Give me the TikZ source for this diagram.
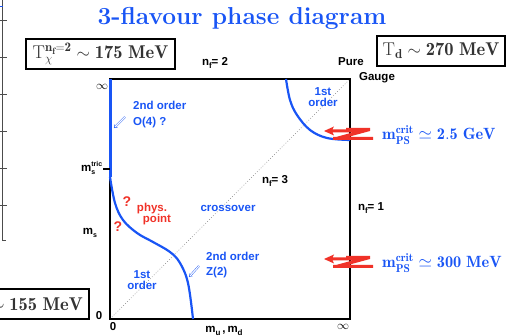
\documentclass[tikz,border=0pt]{standalone}
\usepackage{fontspec}
\setsansfont{Liberation Sans}
\usetikzlibrary{arrows.meta}
\definecolor{myblue}{RGB}{25,85,245}
\definecolor{myred}{RGB}{240,50,40}
\begin{document}
\begin{tikzpicture}[x=1pt,y=-1pt,
  lab/.style={font=\sffamily\bfseries\fontsize{11.5}{13.5}\selectfont, inner sep=0pt, align=center},
  bl/.style={lab, text=myblue},
  rd/.style={lab, text=myred},
  tbox/.style={draw, line width=1.3pt, inner sep=0pt, font=\fontsize{18.5}{21}\selectfont, text=black!80},
  mps/.style={inner sep=0pt, anchor=west, text=myblue, font=\fontsize{16.3}{19}\selectfont},
  curve/.style={myblue, line width=2.2pt},
  dblarrow/.style={myblue, double, double distance=1.1pt, line width=0.4pt, -{Implies}},
  zarrow/.style={fill=myred, draw=none}
]
\useasboundingbox (0,0) rectangle (531,336);
\clip (0,0) rectangle (531,336);

% partial plot at left edge
\draw[black!70, line width=0.8pt] (2,0) -- (2,240) -- (6,240);
\foreach \yy in {20,57,94,131,168,205} \draw[black!70, line width=0.8pt] (0,\yy) -- (7,\yy);
\draw[myblue, line width=1pt] (0,7) -- (3,7);

% title
\node[inner sep=0pt, text=myblue, font=\bfseries\fontsize{24.5}{28}\selectfont] (title) at (242,18) {3-flavour phase diagram};

% boxes
\node[tbox, minimum width=149pt, minimum height=30pt] (tchi) at (100.5,54) {$\mathrm{T}_{\chi}^{\mathbf{n_f=2}}\sim\mathbf{175~MeV}$};
\node[tbox, minimum width=128pt, minimum height=30pt] (td) at (441,51) {$\mathrm{T}_{\mathbf{d}}\sim\mathbf{270~MeV}$};
\draw[line width=1.3pt] (-10,289) rectangle (89,319);
\node[inner sep=0pt, anchor=east, text=black!80, font=\fontsize{18.5}{21}\selectfont] (tc) at (83,304) {$\sim\mathbf{155~MeV}$};

% main square
\coordinate (BL) at (110,319);
\coordinate (TL) at (110,79);
\coordinate (TR) at (350,79);
\coordinate (BR) at (350,319);
\draw[gray, dotted, line width=0.7pt] (BL) -- (TR);
\draw[line width=2pt] (BL) -- (TL) -- (TR) -- (BR) -- cycle;
\coordinate (tric) at (110,177);
\draw[myblue, line width=3pt] (TL) -- (tric);
\draw[line width=2pt] (103,169) -- (110,169);

% curves
\draw[curve] plot[smooth, tension=0.6] coordinates {(110,177) (115,203) (123,220) (137,233) (153,242) (170,252) (180,263) (188,283) (193,319)};
\draw[curve] plot[smooth, tension=0.6] coordinates {(286,79) (290,100) (297,115) (310,130) (327,138) (350,140)};

% axis labels
\node[lab] (inf1) at (102,87) {$\infty$};
\node[lab] (inf2) at (343,327) {$\infty$};
\node[lab] (zero1) at (99,316) {0};
\node[lab] (zero2) at (113,327) {0};
\node[lab] (mumd) at (224,331) {m\raisebox{-0.45ex}{\fontsize{8}{9}\selectfont u}\,,\,m\raisebox{-0.45ex}{\fontsize{8}{9}\selectfont d}};
\node[lab] (ms) at (90,233) {m\raisebox{-0.45ex}{\fontsize{7}{8}\selectfont s}};
\node[lab] (mstric) at (92,168) {m$^{\hbox{\fontsize{7}{8}\selectfont tric}}_{\hbox{\fontsize{7}{8}\selectfont s}}$};
\node[lab] (nf2) at (215,63) {n\raisebox{-0.45ex}{\fontsize{8}{9}\selectfont f}= 2};
\node[lab] (nf3) at (275,181) {n\raisebox{-0.45ex}{\fontsize{8}{9}\selectfont f}= 3};
\node[lab] (nf1) at (371,208) {n\raisebox{-0.45ex}{\fontsize{8}{9}\selectfont f}= 1};
\node[lab] (pure) at (351,62) {Pure};
\node[lab] (gauge) at (377,78) {Gauge};

% region labels
\node[bl, anchor=west] (o4a) at (133,105) {2nd order};
\node[bl, anchor=west] (o4b) at (133,123) {O(4) ?};
\draw[dblarrow] (125,117) -- (114,128);
\node[bl] (fo1) at (323,97) {1st\\[-2pt]order};
\node[bl] (cross) at (228,208) {crossover};
\node[bl] (fo2) at (142,280) {1st\\[-2pt]order};
\node[bl, anchor=west] (z2a) at (206,256) {2nd order};
\node[bl, anchor=west] (z2b) at (206,273) {Z(2)};
\draw[dblarrow] (199,266) -- (189,277);
\node[rd, font=\sffamily\bfseries\fontsize{14}{16}\selectfont] (q1) at (127,202) {?};
\node[rd, font=\sffamily\bfseries\fontsize{14}{16}\selectfont] (q2) at (118,227) {?};
\node[rd] (phys) at (152,214) {phys.\\[-2pt]\hspace*{10pt}point};

% red z-arrows
\foreach \ty/\nm in {131/za, 259/zb}{
  \fill[zarrow, shift={(324,\ty)}] (0,0) -- (10,-4.5) -- (8.5,-1.5) -- (22,-1.5) -- (22,-3) -- (46,-3) -- (46,0) -- (24,6) -- (49,6) -- (49,9) -- (9,9) -- (9,6) -- (12,6) -- (28.5,1.5) -- (8.5,1.5) -- (10,4.5) -- cycle;
}
\node[mps] (mps1) at (382,135) {$\mathbf{m}_{\mathbf{PS}}^{\mathbf{crit}}\simeq\mathbf{2.5~GeV}$};
\node[mps] (mps2) at (382,263) {$\mathbf{m}_{\mathbf{PS}}^{\mathbf{crit}}\simeq\mathbf{300~MeV}$};
\end{tikzpicture}
\end{document}
